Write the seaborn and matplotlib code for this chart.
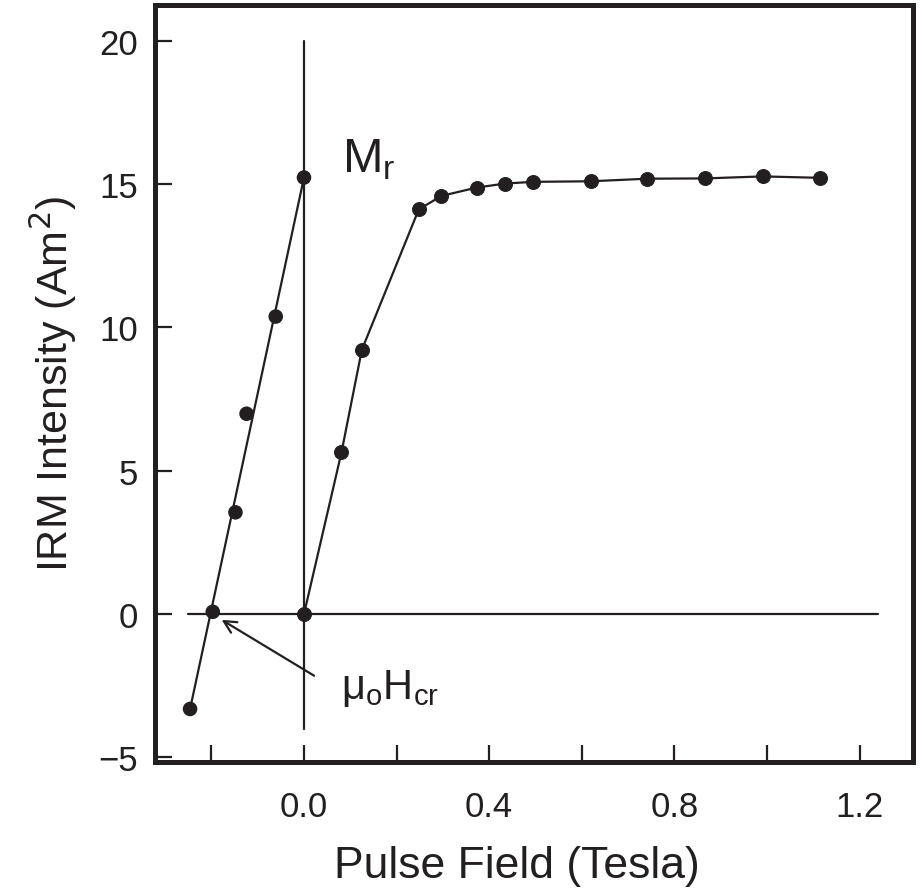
import matplotlib
matplotlib.use("Agg")
import matplotlib.pyplot as plt
import seaborn as sns
import pandas as pd

# backfield (left) points
back_field = [-0.246, -0.197, -0.148, -0.124, -0.061, 0.0]
back_irm = [-3.31, 0.08, 3.55, 6.99, 10.38, 15.23]

# forward acquisition curve
fwd_field = [0.0, 0.081, 0.125, 0.248, 0.297, 0.373, 0.434, 0.495, 0.619, 0.742, 0.867, 0.991, 1.114]
fwd_irm = [0.0, 5.64, 9.22, 14.12, 14.59, 14.88, 15.02, 15.08, 15.10, 15.19, 15.20, 15.27, 15.22]

x_ticks = [-0.2, 0.0, 0.2, 0.4, 0.6, 0.8, 1.0, 1.2]
x_tick_labels = ["", "0.0", "", "0.4", "", "0.8", "", "1.2"]
y_ticks = [-5, 0, 5, 10, 15, 20]
y_tick_labels = ["\u22125", "0", "5", "10", "15", "20"]

ink = "#231f20"

sns.set_style("ticks")
plt.rcParams['font.family'] = ['Liberation Sans', 'DejaVu Sans']

fig = plt.figure(figsize=(9.22, 8.95), dpi=100)
ax = fig.add_axes([0.168, 0.1475, 0.822, 0.8458])

df_fwd = pd.DataFrame({'field': fwd_field, 'irm': fwd_irm})
df_back = pd.DataFrame({'field': back_field, 'irm': back_irm})

# reference lines
ax.plot([0, 0], [-4.0, 20], color=ink, lw=1.6, zorder=1)
ax.plot([-0.25, 1.24], [0, 0], color=ink, lw=1.6, zorder=1)

# straight line through the back-field points
ax.plot([back_field[0], back_field[-1]], [back_irm[0], back_irm[-1]], color=ink, lw=1.6, zorder=2)
sns.scatterplot(data=df_back, x='field', y='irm', color=ink, s=110, edgecolor='none', ax=ax, zorder=3)

sns.lineplot(data=df_fwd, x='field', y='irm', color=ink, lw=1.6, marker='o', markersize=10,
             markeredgecolor=ink, sort=False, ax=ax, zorder=3)

ax.set_xlim(-0.322, 1.315)
ax.set_ylim(-5.16, 21.25)
ax.set_xticks(x_ticks)
ax.set_xticklabels(x_tick_labels)
ax.set_yticks(y_ticks)
ax.set_yticklabels(y_tick_labels)
ax.tick_params(direction='in', length=12, width=1.6, labelsize=25, colors=ink, pad=12)
ax.tick_params(axis='x', pad=20)
for sp in ax.spines.values():
    sp.set_linewidth(3.6)
    sp.set_color(ink)

ax.set_xlabel('Pulse Field (Tesla)', fontsize=32, color=ink, labelpad=14)
ax.set_ylabel('IRM Intensity (Am$^2$)', fontsize=31, color=ink, labelpad=14)
ax.xaxis.set_label_coords(0.478, -0.11)

ax.text(0.082, 15.9, r'$\mathregular{M_r}$', fontsize=35, color=ink, va='center', ha='left')
ax.text(0.08, -2.55, r'$\mathregular{\mu_oH_{cr}}$', fontsize=30, color=ink, va='center', ha='left')
ax.annotate('', xy=(-0.183, -0.15), xytext=(0.027, -2.2),
            arrowprops=dict(arrowstyle='->', color=ink, lw=1.6, mutation_scale=22))

fig.savefig('out.png', dpi=100)
